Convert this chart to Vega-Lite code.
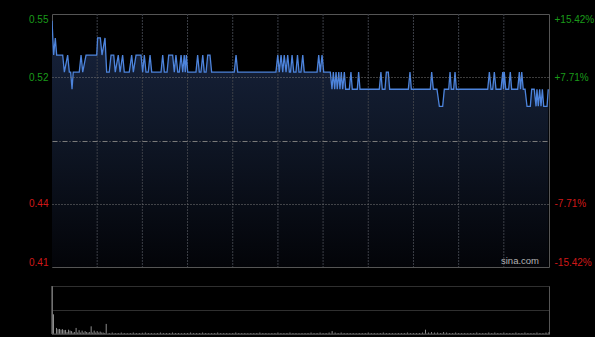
{
"$schema": "https://vega.github.io/schema/vega-lite/v6.json",
"background": "#000000",
"padding": {"left": 21, "top": 13, "right": 0, "bottom": 4},
"autosize": {"type": "pad"},
"bounds": "flush",
"spacing": 19,
"config": {
  "font": "Liberation Sans",
  "view": {"stroke": "#555555"},
  "axis": {"labelFont": "Liberation Sans", "labelFontSize": 10, "labelOverlap": false}
},
"datasets": {
"price": [
{"m":0,"p":0.55},{"m":1.1,"p":0.53},{"m":2.2,"p":0.54},{"m":3.1,"p":0.53},{"m":7.1,"p":0.53},{"m":8.2,"p":0.52},{"m":10.4,"p":0.53},{"m":11.5,"p":0.52},{"m":12.4,"p":0.52},{"m":13.3,"p":0.51},{"m":14.1,"p":0.52},{"m":18.1,"p":0.52},{"m":19.3,"p":0.53},{"m":20.4,"p":0.52},{"m":22.6,"p":0.53},{"m":29.7,"p":0.53},{"m":30.3,"p":0.54},{"m":32.1,"p":0.54},{"m":33.2,"p":0.53},{"m":35.2,"p":0.54},{"m":36.3,"p":0.52},{"m":38.0,"p":0.52},{"m":39.2,"p":0.53},{"m":41.0,"p":0.53},{"m":42.0,"p":0.52},{"m":44.0,"p":0.53},{"m":45.2,"p":0.52},{"m":46.9,"p":0.53},{"m":48.0,"p":0.52},{"m":51.3,"p":0.52},{"m":52.9,"p":0.53},{"m":54.0,"p":0.52},{"m":55.8,"p":0.53},{"m":59.1,"p":0.53},{"m":60.2,"p":0.52},{"m":61.3,"p":0.53},{"m":62.4,"p":0.52},{"m":63.9,"p":0.52},{"m":65.1,"p":0.53},{"m":66.2,"p":0.52},{"m":72.4,"p":0.52},{"m":73.5,"p":0.53},{"m":74.6,"p":0.52},{"m":76.4,"p":0.52},{"m":77.5,"p":0.53},{"m":80.1,"p":0.53},{"m":81.2,"p":0.52},{"m":82.3,"p":0.53},{"m":83.5,"p":0.52},{"m":84.5,"p":0.52},{"m":85.7,"p":0.53},{"m":86.8,"p":0.52},{"m":87.8,"p":0.53},{"m":88.5,"p":0.52},{"m":89.2,"p":0.53},{"m":90.1,"p":0.52},{"m":95.6,"p":0.52},{"m":96.7,"p":0.53},{"m":97.8,"p":0.52},{"m":98.9,"p":0.52},{"m":100.1,"p":0.53},{"m":101.1,"p":0.52},{"m":102.3,"p":0.52},{"m":103.4,"p":0.53},{"m":104.9,"p":0.53},{"m":106.0,"p":0.52},{"m":121.0,"p":0.52},{"m":122.2,"p":0.53},{"m":123.3,"p":0.52},{"m":148.7,"p":0.52},{"m":149.9,"p":0.53},{"m":150.9,"p":0.52},{"m":152.1,"p":0.53},{"m":153.2,"p":0.52},{"m":154.2,"p":0.53},{"m":155.4,"p":0.52},{"m":156.5,"p":0.53},{"m":157.6,"p":0.52},{"m":158.4,"p":0.52},{"m":159.4,"p":0.53},{"m":160.5,"p":0.52},{"m":162.0,"p":0.52},{"m":163.0,"p":0.53},{"m":164.0,"p":0.52},{"m":165.3,"p":0.52},{"m":166.5,"p":0.53},{"m":167.5,"p":0.52},{"m":176.0,"p":0.52},{"m":177.1,"p":0.53},{"m":178.1,"p":0.52},{"m":179.3,"p":0.53},{"m":180.4,"p":0.52},{"m":184.8,"p":0.52},{"m":185.9,"p":0.51},{"m":186.8,"p":0.52},{"m":187.7,"p":0.51},{"m":188.6,"p":0.52},{"m":189.4,"p":0.51},{"m":190.4,"p":0.52},{"m":191.2,"p":0.51},{"m":192.1,"p":0.52},{"m":193.0,"p":0.51},{"m":194.1,"p":0.52},{"m":195.0,"p":0.51},{"m":197.4,"p":0.51},{"m":198.5,"p":0.52},{"m":199.4,"p":0.51},{"m":202.7,"p":0.51},{"m":203.6,"p":0.52},{"m":204.5,"p":0.51},{"m":217.3,"p":0.51},{"m":218.4,"p":0.52},{"m":219.3,"p":0.51},{"m":221.1,"p":0.51},{"m":222.0,"p":0.52},{"m":223.3,"p":0.52},{"m":224.2,"p":0.51},{"m":236.6,"p":0.51},{"m":237.7,"p":0.52},{"m":238.6,"p":0.51},{"m":251.2,"p":0.51},{"m":252.1,"p":0.52},{"m":253.2,"p":0.51},{"m":255.6,"p":0.51},{"m":257.2,"p":0.50},{"m":259.4,"p":0.50},{"m":260.5,"p":0.51},{"m":263.4,"p":0.51},{"m":264.3,"p":0.52},{"m":265.1,"p":0.51},{"m":266.7,"p":0.51},{"m":267.6,"p":0.52},{"m":268.5,"p":0.51},{"m":289.3,"p":0.51},{"m":290.4,"p":0.52},{"m":291.5,"p":0.51},{"m":292.6,"p":0.51},{"m":293.7,"p":0.52},{"m":294.8,"p":0.51},{"m":298.1,"p":0.51},{"m":299.3,"p":0.52},{"m":299.8,"p":0.51},{"m":300.3,"p":0.52},{"m":301.3,"p":0.51},{"m":303.2,"p":0.51},{"m":304.3,"p":0.52},{"m":305.2,"p":0.51},{"m":309.2,"p":0.51},{"m":310.3,"p":0.52},{"m":311.1,"p":0.51},{"m":311.9,"p":0.52},{"m":312.9,"p":0.51},{"m":314.1,"p":0.51},{"m":315.4,"p":0.50},{"m":317.6,"p":0.50},{"m":318.5,"p":0.51},{"m":320.2,"p":0.51},{"m":321.4,"p":0.50},{"m":322.0,"p":0.51},{"m":322.9,"p":0.50},{"m":323.8,"p":0.51},{"m":324.7,"p":0.50},{"m":325.6,"p":0.51},{"m":326.5,"p":0.50},{"m":328.7,"p":0.50},{"m":329.5,"p":0.51}
],
"ticks30": [{"t":30},{"t":60},{"t":90},{"t":120},{"t":150},{"t":180},{"t":210},{"t":240},{"t":270},{"t":300}],
"vol": [
{"m":0,"v":100},{"m":1,"v":41},{"m":3,"v":12.6},{"m":4,"v":10},{"m":5,"v":10.5},{"m":6,"v":9},{"m":7,"v":10},{"m":8,"v":8},{"m":9,"v":8.5},{"m":10,"v":4},{"m":11,"v":9},{"m":12,"v":7},{"m":13,"v":6},{"m":14,"v":3},{"m":15,"v":4},{"m":16,"v":12.6},{"m":17,"v":3},{"m":18,"v":8},{"m":19,"v":3},{"m":20,"v":7},{"m":21,"v":3},{"m":22,"v":6},{"m":23,"v":4},{"m":24,"v":3},{"m":25,"v":4},{"m":26,"v":16},{"m":27,"v":3},{"m":28,"v":7},{"m":29,"v":3},{"m":30,"v":6},{"m":31,"v":3},{"m":32,"v":5},{"m":33,"v":3},{"m":34,"v":3},{"m":35,"v":2},{"m":36,"v":21},
{"m":38,"v":2},{"m":40,"v":3},{"m":42,"v":2},{"m":44,"v":2},{"m":46,"v":3},{"m":48,"v":2},{"m":50,"v":1.5},{"m":52,"v":2},{"m":54,"v":3},{"m":56,"v":2},{"m":58,"v":2},{"m":60,"v":2.5},{"m":62,"v":3},{"m":64,"v":2},{"m":66,"v":2},{"m":68,"v":1.5},{"m":70,"v":2},{"m":72,"v":3},{"m":74,"v":2},{"m":76,"v":2},{"m":78,"v":2},{"m":80,"v":3},{"m":82,"v":2},{"m":84,"v":2},{"m":86,"v":1.5},{"m":88,"v":2},{"m":90,"v":2},{"m":92,"v":3},{"m":94,"v":2},{"m":96,"v":2},{"m":98,"v":2},{"m":100,"v":3},{"m":102,"v":2},{"m":104,"v":1.5},{"m":106,"v":2},{"m":108,"v":2},{"m":110,"v":3},{"m":112,"v":2},{"m":114,"v":2},{"m":116,"v":2},{"m":118,"v":1.5},{"m":120,"v":2},{"m":122,"v":3},{"m":124,"v":2},{"m":126,"v":2},{"m":128,"v":2},{"m":130,"v":1.5},{"m":132,"v":2},{"m":134,"v":2},{"m":136,"v":2},{"m":138,"v":3},{"m":140,"v":2},{"m":142,"v":2},{"m":144,"v":1.5},{"m":146,"v":2},{"m":148,"v":2},{"m":150,"v":3},{"m":152,"v":2},{"m":154,"v":2},{"m":156,"v":2},{"m":158,"v":3},{"m":160,"v":2},{"m":162,"v":2},{"m":164,"v":1.5},{"m":166,"v":2},{"m":168,"v":2},{"m":170,"v":2},{"m":172,"v":3},{"m":174,"v":2},{"m":176,"v":2},{"m":178,"v":3},{"m":180,"v":2},{"m":182,"v":2},{"m":184,"v":3},{"m":186,"v":6},{"m":188,"v":3},{"m":190,"v":2},{"m":192,"v":3},{"m":194,"v":2},{"m":196,"v":2},{"m":198,"v":2},{"m":200,"v":2},{"m":202,"v":1.5},{"m":204,"v":2},{"m":206,"v":2},{"m":208,"v":2},{"m":210,"v":3},{"m":212,"v":2},{"m":214,"v":2},{"m":216,"v":1.5},{"m":218,"v":2},{"m":220,"v":3},{"m":222,"v":2},{"m":224,"v":2},{"m":226,"v":2},{"m":228,"v":1.5},{"m":230,"v":2},{"m":232,"v":2},{"m":234,"v":2},{"m":236,"v":3},{"m":238,"v":2},{"m":240,"v":2},{"m":242,"v":2},{"m":244,"v":2},{"m":246,"v":3},{"m":248,"v":9},{"m":250,"v":3},{"m":252,"v":4},{"m":254,"v":3},{"m":256,"v":3},{"m":258,"v":2},{"m":260,"v":4},{"m":262,"v":3},{"m":264,"v":2},{"m":266,"v":2},{"m":268,"v":3},{"m":270,"v":2},{"m":272,"v":2},{"m":274,"v":2},{"m":276,"v":1.5},{"m":278,"v":2},{"m":280,"v":2},{"m":282,"v":3},{"m":284,"v":2},{"m":286,"v":2},{"m":288,"v":2},{"m":290,"v":3},{"m":292,"v":2},{"m":294,"v":3},{"m":296,"v":2},{"m":298,"v":2},{"m":300,"v":3},{"m":302,"v":2},{"m":304,"v":2},{"m":306,"v":2},{"m":308,"v":3},{"m":310,"v":2},{"m":312,"v":2},{"m":314,"v":3},{"m":316,"v":2},{"m":318,"v":2},{"m":320,"v":2},{"m":322,"v":3},{"m":324,"v":2},{"m":326,"v":2},{"m":328,"v":3},{"m":330,"v":4}
]
},
"vconcat": [
{
  "width": 497,
  "height": 253,
  "view": {"stroke": "#555555", "fill": "#000000"},
  "resolve": {"axis": {"y": "independent"}},
  "layer": [
    {
      "data": {"name": "price"},
      "mark": {"type": "area", "clip": true, "color": {"gradient": "linear", "x1": 0, "y1": 0, "x2": 0, "y2": 1, "stops": [{"offset": 0, "color": "#18243e"}, {"offset": 0.45, "color": "#0f1727"}, {"offset": 1, "color": "#030408"}]}},
      "encoding": {
        "x": {"field": "m", "type": "quantitative", "scale": {"domain": [0, 330], "nice": false, "zero": false}, "axis": null},
        "y": {"field": "p", "type": "quantitative", "scale": {"domain": [0.40598, 0.55402], "nice": false, "zero": false},
              "axis": {"orient": "left", "values": [0.40598, 0.44299, 0.48, 0.51701, 0.55402], "title": null, "ticks": false, "domain": false, "labelPadding": 4, "labelFlush": true, "minExtent": 30, "zindex": 1,
                       "labelExpr": "datum.value > 0.55 ? '0.55' : datum.value > 0.5 ? '0.52' : datum.value > 0.47 ? '' : datum.value > 0.42 ? '0.44' : '0.41'",
                       "labelColor": {"condition": {"test": "datum.value > 0.49", "value": "#1a9a1a"}, "value": "#d01818"},
                       "grid": true,
                       "gridColor": {"condition": {"test": "datum.value > 0.553 || datum.value < 0.407", "value": "transparent"}, "value": "#7a7a7a"},
                       "gridDash": {"condition": {"test": "abs(datum.value - 0.48) < 0.001", "value": [5, 2, 1, 2]}, "value": [1, 2]}}},
        "y2": {"datum": 0.40598}
      }
    },
    {
      "data": {"name": "ticks30"},
      "mark": {"type": "rule", "color": "#3c3f47", "strokeWidth": 1, "strokeDash": [2, 1]},
      "encoding": {
        "x": {"field": "t", "type": "quantitative", "axis": null}
      }
    },
    {
      "data": {"name": "price"},
      "mark": {"type": "line", "color": "#4d84dc", "strokeWidth": 1.3, "clip": true},
      "encoding": {
        "x": {"field": "m", "type": "quantitative", "axis": null},
        "y": {"field": "p", "type": "quantitative",
              "axis": {"orient": "right", "values": [0.40598, 0.44299, 0.48, 0.51701, 0.55402], "title": null, "ticks": false, "domain": false, "grid": false, "labelPadding": 5, "labelFlush": true,
                       "labelExpr": "datum.value > 0.55 ? '+15.42%' : datum.value > 0.5 ? '+7.71%' : datum.value > 0.47 ? '' : datum.value > 0.42 ? '-7.71%' : '-15.42%'",
                       "labelColor": {"condition": {"test": "datum.value > 0.49", "value": "#1a9a1a"}, "value": "#d01818"}}}
      }
    },
    {
      "data": {"values": [{}]},
      "mark": {"type": "text", "text": "sina.com", "align": "right", "baseline": "bottom", "dx": -10, "dy": -1, "fontSize": 9.5, "color": "#b4b4b4", "font": "Liberation Sans"},
      "encoding": {
        "x": {"datum": 330, "type": "quantitative", "axis": null},
        "y": {"datum": 0.40598, "type": "quantitative", "axis": null}
      }
    }
  ]
},
{
  "width": 497,
  "height": 48,
  "view": {"stroke": null, "fill": "#000000"},
  "resolve": {"axis": {"y": "independent"}},
  "layer": [
    {
      "data": {"name": "vol"},
      "mark": {"type": "rule", "color": "#8c8c8c", "strokeWidth": 1},
      "encoding": {
        "x": {"field": "m", "type": "quantitative", "scale": {"domain": [0, 330], "nice": false, "zero": false}, "axis": null},
        "y": {"field": "v", "type": "quantitative", "scale": {"domain": [0, 100], "nice": false},
              "axis": {"orient": "left", "values": [0, 50, 100], "labels": false, "ticks": false, "title": null, "domain": true, "domainColor": "#555555", "grid": true, "gridColor": "#5e5e5e", "gridDash": [1, 1]}},
        "y2": {"datum": 0}
      }
    },
    {
      "data": {"values": [{}]},
      "mark": {"type": "rule", "color": "#555555"},
      "encoding": {
        "y": {"datum": 0, "type": "quantitative", "axis": {"orient": "right", "labels": false, "ticks": false, "grid": false, "title": null, "domain": true, "domainColor": "#555555"}}
      }
    }
  ]
}
]
}
